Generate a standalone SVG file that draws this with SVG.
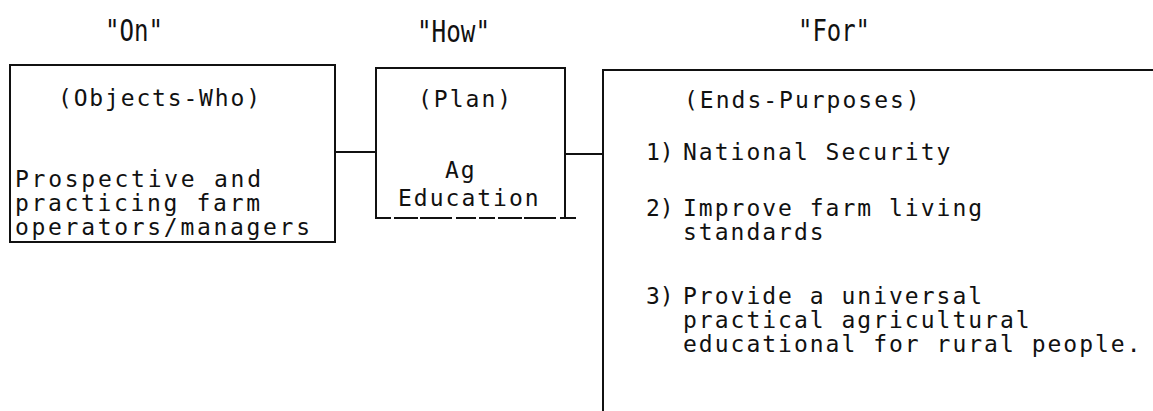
<svg xmlns="http://www.w3.org/2000/svg" width="1153" height="411" viewBox="0 0 1153 411">
<style>
  .ln { stroke: #111; stroke-width: 2; fill: none; stroke-linecap: square; }
  .tx { font-family: "DejaVu Sans Mono", "Liberation Mono", monospace; font-size: 23px; letter-spacing: 2px; fill: #111; }
  .num { font-family: "DejaVu Sans Mono", "Liberation Mono", monospace; font-size: 23px; letter-spacing: 0; fill: #111; }
  .hd { font-family: "DejaVu Sans Mono", "Liberation Mono", monospace; font-size: 30px; fill: #111; }
</style>
<rect width="1153" height="411" fill="#fff"/>
<g id="headers">
  <text class="hd" x="105" y="41" textLength="58" lengthAdjust="spacingAndGlyphs">"On"</text>
  <text class="hd" x="417" y="42" textLength="73" lengthAdjust="spacingAndGlyphs">"How"</text>
  <text class="hd" x="798" y="41" textLength="72" lengthAdjust="spacingAndGlyphs">"For"</text>
</g>
<g id="objects">
  <rect class="ln" x="10" y="65" width="325" height="177"/>
  <text class="tx" x="58" y="106" textLength="204">(Objects-Who)</text>
  <text class="tx" x="15" y="187" textLength="248">Prospective and</text>
  <text class="tx" x="15" y="211" textLength="247">practicing farm</text>
  <text class="tx" x="15" y="235" textLength="297">operators/managers</text>
</g>
<g id="plan">
  <path class="ln" d="M376 68 H565 M376 68 V218 M565 68 V218"/>
  <path class="ln" d="M376 218 H575" stroke-dasharray="14 5 22 4 30 6 18 5"/>
  <text class="tx" x="418" y="107">(Plan)</text>
  <text class="tx" x="445" y="178">Ag</text>
  <text class="tx" x="398" y="206">Education</text>
</g>
<g id="ends">
  <path class="ln" d="M603 70 H1153 M603 70 V411"/>
  <text class="tx" x="684" y="108">(Ends-Purposes)</text>
  <text class="num" x="646" y="160">1)</text>
  <text class="tx" x="683" y="160">National Security</text>
  <text class="num" x="646" y="216">2)</text>
  <text class="tx" x="683" y="216">Improve farm living</text>
  <text class="tx" x="683" y="240">standards</text>
  <text class="num" x="646" y="304">3)</text>
  <text class="tx" x="683" y="304">Provide a universal</text>
  <text class="tx" x="683" y="328">practical agricultural</text>
  <text class="tx" x="683" y="352">educational for rural people.</text>
</g>
<g id="connectors">
  <path class="ln" d="M335 152 H376"/>
  <path class="ln" d="M565 154 H603"/>
</g>
</svg>
